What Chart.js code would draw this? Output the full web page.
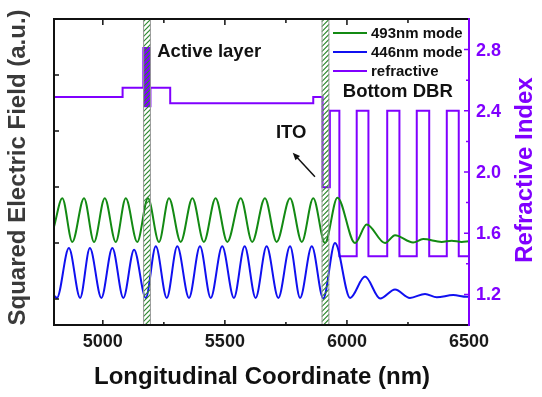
<!DOCTYPE html>
<html>
<head>
<meta charset="utf-8">
<script src="https://cdn.jsdelivr.net/npm/chart.js@4.4.1/dist/chart.umd.min.js"></script>
<style>
  html, body { margin: 0; padding: 0; background: #fff; }
</style>
</head>
<body>
<canvas id="chart" width="542" height="397"></canvas>
<script>
// 493nm mode, peaks and troughs (nm, a.u.)
const greenX = [4800, 4834, 4875, 4923, 4964, 5008, 5053, 5094, 5141, 5185, 5230, 5271, 5319, 5367, 5414, 5462, 5510, 5565, 5612, 5664, 5712, 5767, 5815, 5862, 5910, 5961, 6033, 6081, 6156, 6197, 6271, 6312, 6388, 6429, 6470, 6500];
const greenY = [1.29, 1.80, 1.02, 1.80, 1.02, 1.80, 1.02, 1.80, 1.02, 1.80, 1.02, 1.80, 1.02, 1.80, 1.02, 1.80, 1.02, 1.80, 1.02, 1.80, 1.02, 1.80, 1.02, 1.80, 1.00, 1.81, 1.00, 1.33, 1.00, 1.14, 1.01, 1.07, 1.02, 1.04, 1.02, 1.03];

// 446nm mode
const blueX = [4800, 4812, 4861, 4907, 4947, 4994, 5039, 5084, 5128, 5176, 5217, 5262, 5305, 5353, 5398, 5442, 5489, 5537, 5581, 5626, 5671, 5719, 5767, 5808, 5856, 5903, 5951, 6013, 6074, 6136, 6197, 6258, 6320, 6368, 6435, 6491, 6500];
const blueY = [0.06, 0.02, 0.91, 0.02, 0.91, 0.02, 0.91, 0.02, 0.88, 0.02, 0.94, 0.02, 0.94, 0.02, 0.94, 0.02, 0.94, 0.02, 0.94, 0.02, 0.94, 0.02, 0.94, 0.02, 0.94, 0.01, 1.00, 0.02, 0.40, 0.01, 0.17, 0.02, 0.09, 0.03, 0.07, 0.04, 0.04];

// refractive index, each value holds from its x to the next one
const refX = [4800, 5081, 5166, 5169, 5172, 5175, 5178, 5181, 5184, 5187, 5190, 5193, 5195, 5276, 5862, 5900, 5930, 5969, 6040, 6088, 6165, 6215, 6286, 6337, 6409, 6458, 6500];
const refN = [2.49, 2.55, 2.81, 2.43, 2.81, 2.43, 2.81, 2.43, 2.81, 2.43, 2.81, 2.43, 2.55, 2.45, 2.49, 1.90, 2.40, 1.45, 2.40, 1.45, 2.40, 1.45, 2.40, 1.45, 2.40, 1.45, 1.45];

const xTicks = [5000, 5500, 6000, 6500];
const xMinorTicks = [5250, 5750, 6250];
const nTicks = [1.2, 1.6, 2.0, 2.4, 2.8];
const nMinorTicks = [1.4, 1.8, 2.2, 2.6];
const fieldTicks = [0, 1, 2, 3, 4];
const layers = [[5165, 5197], [5896, 5928]]; // active layer, ITO

const PURPLE = "#8000ff";
const FONT = "'Liberation Sans', Arial, sans-serif";

function pts(xs, ys) {
  return xs.map((v, i) => ({ x: v, y: ys[i] }));
}

const decor = {
  id: "decor",
  afterDatasetsDraw(chart) {
    const { ctx, chartArea: a, scales } = chart;
    const sx = scales.x, sn = scales.y2;

    // hatched layers
    layers.forEach(([s, e]) => {
      const x0 = sx.getPixelForValue(s), x1 = sx.getPixelForValue(e);
      const w = x1 - x0;
      ctx.save();
      ctx.beginPath();
      ctx.rect(x0, a.top, w, a.bottom - a.top);
      ctx.clip();
      ctx.strokeStyle = "#2f8a2f";
      ctx.lineWidth = 1.1;
      ctx.beginPath();
      for (let yy = a.top - 20; yy < a.bottom + 20; yy += 5) {
        ctx.moveTo(x0, yy + w);
        ctx.lineTo(x1, yy);
      }
      ctx.stroke();
      ctx.restore();
      ctx.strokeStyle = "#9a9a9a";
      ctx.lineWidth = 1;
      ctx.strokeRect(x0 + 0.5, a.top, w - 1, a.bottom - a.top);
    });

    // labels
    ctx.save();
    ctx.fillStyle = "#111";
    ctx.font = "bold 18.5px " + FONT;
    ctx.textBaseline = "middle";
    ctx.textAlign = "left";
    ctx.fillText("Active layer", sx.getPixelForValue(5223), sn.getPixelForValue(2.786));
    ctx.fillText("Bottom DBR", sx.getPixelForValue(5983), sn.getPixelForValue(2.523));
    ctx.fillText("ITO", sx.getPixelForValue(5709), sn.getPixelForValue(2.257));

    // arrow to ITO
    const ax0 = sx.getPixelForValue(5869), ay0 = sn.getPixelForValue(1.969);
    const ax1 = sx.getPixelForValue(5778), ay1 = sn.getPixelForValue(2.126);
    ctx.strokeStyle = "#111";
    ctx.lineWidth = 1.5;
    ctx.beginPath();
    ctx.moveTo(ax0, ay0);
    ctx.lineTo(ax1 + 3, ay1 + 3.2);
    ctx.stroke();
    const ang = Math.atan2(ay1 - ay0, ax1 - ax0);
    ctx.beginPath();
    ctx.moveTo(ax1, ay1);
    ctx.lineTo(ax1 - 8 * Math.cos(ang - 0.4), ay1 - 8 * Math.sin(ang - 0.4));
    ctx.lineTo(ax1 - 8 * Math.cos(ang + 0.4), ay1 - 8 * Math.sin(ang + 0.4));
    ctx.closePath();
    ctx.fillStyle = "#111";
    ctx.fill();

    // legend
    ctx.font = "bold 15px " + FONT;
    chart.data.datasets.forEach((ds, i) => {
      const ly = a.top + 14 + i * 19;
      const lx = a.left + 279;
      ctx.strokeStyle = ds.borderColor;
      ctx.lineWidth = 2;
      ctx.beginPath();
      ctx.moveTo(lx, ly);
      ctx.lineTo(lx + 34, ly);
      ctx.stroke();
      ctx.fillStyle = "#111";
      ctx.fillText(ds.label, lx + 38, ly + 0.5);
    });
    ctx.restore();
  },
  afterDraw(chart) {
    const { ctx, chartArea: a, scales } = chart;
    const sx = scales.x, sy = scales.y, sn = scales.y2;
    ctx.save();

    // ticks, pointing inward
    ctx.lineWidth = 1.5;
    ctx.strokeStyle = "#111";
    ctx.beginPath();
    xTicks.forEach(v => {
      const px = sx.getPixelForValue(v);
      ctx.moveTo(px, a.bottom); ctx.lineTo(px, a.bottom - 5);
      ctx.moveTo(px, a.top); ctx.lineTo(px, a.top + 6);
    });
    xMinorTicks.forEach(v => {
      const px = sx.getPixelForValue(v);
      ctx.moveTo(px, a.bottom); ctx.lineTo(px, a.bottom - 3);
      ctx.moveTo(px, a.top); ctx.lineTo(px, a.top + 4);
    });
    fieldTicks.forEach(v => {
      const py = sy.getPixelForValue(v);
      ctx.moveTo(a.left, py); ctx.lineTo(a.left + 5, py);
    });
    ctx.stroke();

    ctx.strokeStyle = PURPLE;
    ctx.beginPath();
    nTicks.forEach(v => {
      const py = sn.getPixelForValue(v);
      ctx.moveTo(a.right, py); ctx.lineTo(a.right - 5, py);
    });
    nMinorTicks.forEach(v => {
      const py = sn.getPixelForValue(v);
      ctx.moveTo(a.right, py); ctx.lineTo(a.right - 3, py);
    });
    ctx.stroke();

    // frame
    ctx.lineWidth = 2;
    ctx.strokeStyle = "#111";
    ctx.beginPath();
    ctx.moveTo(a.right, a.top);
    ctx.lineTo(a.left, a.top);
    ctx.lineTo(a.left, a.bottom);
    ctx.lineTo(a.right, a.bottom);
    ctx.stroke();
    ctx.strokeStyle = PURPLE;
    ctx.beginPath();
    ctx.moveTo(a.right, a.top - 1);
    ctx.lineTo(a.right, a.bottom + 1);
    ctx.stroke();

    // tick labels
    ctx.font = "bold 18px " + FONT;
    ctx.fillStyle = "#1a1a1a";
    ctx.textAlign = "center";
    ctx.textBaseline = "middle";
    xTicks.forEach(v => ctx.fillText(String(v), sx.getPixelForValue(v), a.bottom + 17));
    ctx.fillStyle = PURPLE;
    ctx.textAlign = "left";
    nTicks.forEach(v => ctx.fillText(v.toFixed(1), a.right + 7, sn.getPixelForValue(v) + 1));

    // axis titles
    ctx.font = "bold 24px " + FONT;
    ctx.textBaseline = "alphabetic";
    ctx.textAlign = "center";
    ctx.fillStyle = "#111";
    ctx.fillText("Longitudinal Coordinate (nm)", (a.left + a.right) / 2 + 0.5, 384);

    ctx.save();
    ctx.translate(25, 167.5);
    ctx.rotate(-Math.PI / 2);
    ctx.fillStyle = "#3a3a3a";
    ctx.fillText("Squared Electric Field (a.u.)", 0, 0);
    ctx.restore();

    ctx.save();
    ctx.translate(532, 170);
    ctx.rotate(-Math.PI / 2);
    ctx.fillStyle = PURPLE;
    ctx.fillText("Refractive Index", 0, 0);
    ctx.restore();

    ctx.restore();
  }
};

new Chart(document.getElementById("chart"), {
  type: "line",
  data: {
    datasets: [
      {
        label: "493nm mode",
        data: pts(greenX, greenY),
        borderColor: "#138a13",
        borderWidth: 2,
        pointRadius: 0,
        cubicInterpolationMode: "monotone",
        yAxisID: "y"
      },
      {
        label: "446nm mode",
        data: pts(blueX, blueY),
        borderColor: "#1010f0",
        borderWidth: 2,
        pointRadius: 0,
        cubicInterpolationMode: "monotone",
        yAxisID: "y"
      },
      {
        label: "refractive",
        data: pts(refX, refN),
        borderColor: PURPLE,
        borderWidth: 2,
        pointRadius: 0,
        stepped: "before",
        yAxisID: "y2"
      }
    ]
  },
  options: {
    responsive: false,
    animation: false,
    devicePixelRatio: 1,
    layout: { padding: { top: 19, left: 54, right: 73, bottom: 72 } },
    plugins: { legend: { display: false }, tooltip: { enabled: false } },
    scales: {
      x: { type: "linear", min: 4800, max: 6500, display: false },
      y: { type: "linear", min: -0.464, max: 5, display: false },
      y2: { type: "linear", min: 1.0, max: 3.0, display: false }
    }
  },
  plugins: [decor]
});
</script>
</body>
</html>
